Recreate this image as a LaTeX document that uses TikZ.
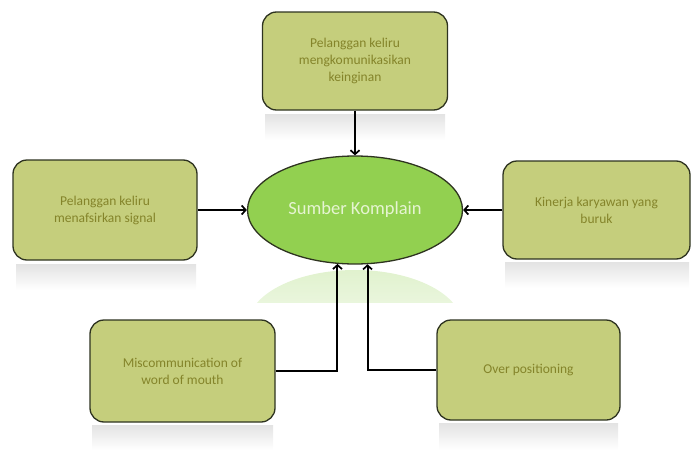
\documentclass[tikz,border=0pt]{standalone}
\usepackage{fontspec}
\setmainfont{Carlito}
\usetikzlibrary{arrows.meta,shapes.geometric}
\definecolor{boxfill}{HTML}{C5CE7C}
\definecolor{boxtext}{HTML}{84842A}
\definecolor{ellfill}{HTML}{92D050}
\definecolor{elltext}{HTML}{E6F4D2}
\definecolor{edge}{HTML}{2E3320}
\tikzset{
  cbox/.style={draw=edge, line width=1.3pt, fill=boxfill, rounded corners=14pt,
    text=boxtext, align=center, font=\fontsize{13.5}{17}\selectfont, inner sep=4pt},
  cell/.style={ellipse, draw=edge, line width=1.3pt, fill=ellfill, text=elltext,
    font=\fontsize{18.5}{22}\selectfont, inner sep=0pt},
  conn/.style={line width=2pt, -{Straight Barb[length=4pt,width=9pt,line width=1.7pt]}},
  refl/.style={top color=black!11, bottom color=white}
}
\begin{document}
\begin{tikzpicture}[x=1pt,y=-1pt]
\useasboundingbox (0,0) rectangle (697,450);
% reflections
\shade[refl] (265,114) rectangle (445,140);
\shade[refl] (16,264) rectangle (196,290);
\shade[refl] (505,262) rectangle (689,288);
\shade[refl] (92,425) rectangle (273,450);
\shade[refl] (439,423) rectangle (618,450);
\begin{scope}
  \clip (240,268) rectangle (470,302);
  \shade[top color=ellfill!28, bottom color=white] (355,325) ellipse [x radius=107, y radius=55];
\end{scope}
% nodes
\node[cbox, minimum width=185pt, minimum height=98pt] (top) at (355,61)
  {Pelanggan keliru\\mengkomunikasikan\\keinginan};
\node[cbox, minimum width=184pt, minimum height=100pt] (left) at (105,210)
  {Pelanggan keliru\\menafsirkan signal};
\node[cbox, minimum width=187pt, minimum height=98pt] (right) at (596.5,210)
  {Kinerja karyawan yang\\buruk};
\node[cbox, minimum width=185pt, minimum height=102pt] (bl) at (182.5,371)
  {Miscommunication of\\word of mouth};
\node[cbox, minimum width=183pt, minimum height=100pt] (br) at (528.5,370)
  {Over positioning};
\node[cell, minimum width=215pt, minimum height=108pt] (ell) at (355,210)
  {Sumber Komplain};
% connectors
\draw[conn] (top.south) -- (ell.north);
\draw[conn] (left.east) -- (ell.west);
\draw[conn] (right.west) -- (ell.east);
\draw[conn] (bl.east) -| (ell.252);
\draw[conn] (br.west) -| (ell.283);
\end{tikzpicture}
\end{document}
